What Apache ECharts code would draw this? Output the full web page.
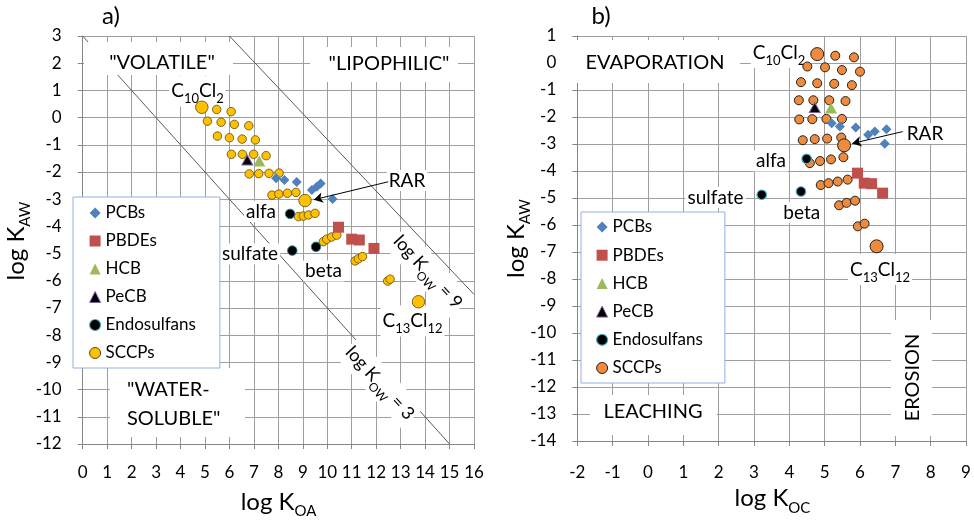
<!DOCTYPE html>
<html>
<head>
<meta charset="utf-8">
<script src="https://cdn.jsdelivr.net/npm/echarts@6/dist/echarts.min.js"></script>
<style>html,body{margin:0;padding:0;background:#fff}#c{width:974px;height:521px}</style>
</head>
<body>
<div id="c"></div>
<script>
const FONT = 'Lato, "Open Sans", "Liberation Sans", sans-serif';

// ---------- axis ranges / ticks ----------
const xRangeA = [0, 16];
const yRangeA = [-12, 3];
const xRangeB = [-2, 9];
const yRangeB = [-14, 1];
const tickStep = 1;
const legendNames = ['PCBs', 'PBDEs', 'HCB', 'PeCB', 'Endosulfans', 'SCCPs'];

// ---------- panel a) : log KOA vs log KAW ----------
const pcbA = [[7.91,-2.23],[8.25,-2.29],[8.75,-2.37],[9.37,-2.66],[9.57,-2.54],[9.73,-2.42],[10.22,-2.99]];
const pbdeA = [[10.46,-4.03],[11.00,-4.47],[11.31,-4.50],[11.91,-4.81]];
const hcbA = [[7.22,-1.60]];
const pecbA = [[6.73,-1.56]];
const endoA = [[8.48,-3.54],[8.57,-4.89],[9.54,-4.75]];
const sccpA = [
  [5.48,0.30],[6.07,0.22],
  [5.10,-0.13],[5.66,-0.17],[6.20,-0.25],[6.79,-0.30],
  [5.51,-0.68],[6.00,-0.74],[6.52,-0.79],[7.06,-0.82],
  [6.08,-1.35],[6.53,-1.35],[6.99,-1.35],[7.50,-1.40],
  [6.81,-2.07],[7.20,-2.06],[7.62,-2.05],[8.03,-2.04],
  [7.74,-2.85],[8.02,-2.81],[8.37,-2.78],[8.72,-2.75],
  [8.82,-3.64],[9.02,-3.62],[9.23,-3.58],[9.50,-3.52],
  [9.84,-4.56],[9.98,-4.47],[10.18,-4.39],[10.39,-4.32],
  [11.14,-5.27],[11.27,-5.19],[11.44,-5.11],
  [12.47,-6.01],[12.57,-5.94]
];
const sccpAKey = [[4.87,0.38],[9.09,-3.05],[13.73,-6.77]]; // C10Cl2, RAR, C13Cl12
const kow3A = [[0,3],[15,-12]];
const kow9A = [[6,3],[16,-6.5]];
const rarArrowA = [[12.49,-2.36],[9.45,-3.02]];

// ---------- panel b) : log KOC vs log KAW ----------
const pcbB = [[5.20,-2.23],[5.43,-2.35],[5.88,-2.39],[6.23,-2.66],[6.42,-2.54],[6.75,-2.45],[6.70,-2.99]];
const pbdeB = [[5.93,-4.08],[6.12,-4.45],[6.33,-4.47],[6.64,-4.82]];
const hcbB = [[5.18,-1.67]];
const pecbB = [[4.72,-1.65]];
const endoB = [[4.49,-3.55],[3.22,-4.88],[4.33,-4.76]];
const sccpB = [
  [5.30,0.27],[5.83,0.21],
  [4.51,-0.13],[5.01,-0.16],[5.49,-0.26],[6.00,-0.32],
  [4.33,-0.71],[4.79,-0.75],[5.27,-0.77],[5.77,-0.82],
  [4.27,-1.38],[4.68,-1.38],[5.13,-1.38],[5.59,-1.41],
  [4.28,-2.09],[4.65,-2.08],[5.05,-2.07],[5.49,-2.07],
  [4.38,-2.86],[4.72,-2.82],[5.07,-2.80],[5.47,-2.76],
  [4.58,-3.71],[4.87,-3.63],[5.18,-3.57],[5.53,-3.49],
  [4.89,-4.52],[5.11,-4.45],[5.37,-4.39],[5.65,-4.32],
  [5.41,-5.27],[5.62,-5.18],[5.86,-5.10],
  [5.94,-6.05],[6.13,-5.95]
];
const sccpBKey = [[4.79,0.33],[5.55,-3.05],[6.47,-6.79]];
const rarArrowB = [[7.21,-2.54],[5.78,-2.98]];

// ---------- styles ----------
const C = {
  pcb: '#4F81BD', pbde: '#C0504D', hcb: '#9BBB59', pecb: '#000000', pecbEdge: '#8064A2',
  endo: '#000000', endoEdge: '#4BACC6', sccpA: '#FFC000', sccpAEdge: '#5a4a10',
  sccpB: '#F08A3C', sccpBEdge: '#222222', grid: '#9E9E9E', axis: '#868686'
};

function xAxis(gi, range, margin) {
  return {
    type: 'value', gridIndex: gi, min: range[0], max: range[1], interval: tickStep,
    axisLine: { show: true, onZero: false, lineStyle: { color: C.axis, width: 1 } },
    axisTick: { show: true, inside: false, length: 5, lineStyle: { color: C.axis } },
    axisLabel: { show: true, margin: margin, fontFamily: FONT, fontSize: 17, color: '#000',
      showMinLabel: true, showMaxLabel: true, hideOverlap: false },
    splitLine: { show: true, lineStyle: { color: C.grid, width: 1 } }
  };
}
function yAxis(gi, range) {
  return {
    type: 'value', gridIndex: gi, min: range[0], max: range[1], interval: tickStep,
    axisLine: { show: true, onZero: false, lineStyle: { color: C.axis, width: 1 } },
    axisTick: { show: true, inside: false, length: 5, lineStyle: { color: C.axis } },
    axisLabel: { show: true, margin: 21, fontFamily: FONT, fontSize: 17, color: '#000',
      showMinLabel: true, showMaxLabel: true, hideOverlap: false },
    splitLine: { show: true, lineStyle: { color: C.grid, width: 1 } }
  };
}
function sc(name, data, gi, symbol, size, color, edge, bw, z) {
  return {
    type: 'scatter', name: name, xAxisIndex: gi, yAxisIndex: gi, data: data,
    symbol: symbol, symbolSize: size, z: z || 2, silent: true, animation: false,
    itemStyle: { color: color, borderColor: edge || color, borderWidth: bw || 0, opacity: 1 },
    emphasis: { disabled: true }
  };
}
function refLine(data, gi) {
  return {
    type: 'line', name: 'ref', xAxisIndex: gi, yAxisIndex: gi, data: data, z: 1,
    symbol: 'none', silent: true, animation: false,
    lineStyle: { color: '#595959', width: 1 }, emphasis: { disabled: true }
  };
}
function arrow(series, pts) {
  series.markLine = {
    silent: true, animation: false, symbol: ['none', 'arrow'], symbolSize: [8, 9],
    lineStyle: { color: '#000', width: 1, type: 'solid' }, label: { show: false },
    emphasis: { disabled: true },
    data: [[{ coord: pts[0] }, { coord: pts[1] }]]
  };
  return series;
}
function legendData(sc1, sc1Edge) {
  return [
    { name: legendNames[0], icon: 'diamond', itemStyle: { color: C.pcb, borderWidth: 0 } },
    { name: legendNames[1], icon: 'rect', itemStyle: { color: C.pbde, borderWidth: 0 } },
    { name: legendNames[2], icon: 'triangle', itemStyle: { color: C.hcb, borderWidth: 0 } },
    { name: legendNames[3], icon: 'triangle', itemStyle: { color: C.pecb, borderColor: C.pecbEdge, borderWidth: 1 } },
    { name: legendNames[4], icon: 'circle', itemStyle: { color: C.endo, borderColor: C.endoEdge, borderWidth: 1.2 } },
    { name: legendNames[5], icon: 'circle', itemStyle: { color: sc1, borderColor: sc1Edge, borderWidth: 1 } }
  ];
}
function legend(left, top, pad, gap, sc1, sc1Edge) {
  return {
    show: true, orient: 'vertical', left: left, top: top, padding: pad, itemGap: gap,
    itemWidth: 11, itemHeight: 11, selectedMode: false, z: 10,
    backgroundColor: '#fff', borderColor: '#8DB3E2', borderWidth: 1, borderRadius: 0,
    textStyle: { fontFamily: FONT, fontSize: 17, color: '#000', lineHeight: 20 },
    data: legendData(sc1, sc1Edge)
  };
}

// ---------- text annotations (pixel layout) ----------
function richSub(fs, sfs) {
  return {
    m: { fontSize: fs, fontFamily: FONT, fill: '#000', lineHeight: fs + 10 },
    s: { fontSize: sfs, fontFamily: FONT, fill: '#000', verticalAlign: 'bottom' }
  };
}
function T(x, y, text, fs, opt) {
  opt = opt || {};
  const style = {
    text: text, fontFamily: FONT, fontSize: fs, fill: '#000',
    align: opt.align || 'center', verticalAlign: 'middle'
  };
  if (opt.sub) style.rich = richSub(fs, opt.sub);
  if (opt.bg) { style.backgroundColor = '#fff'; style.padding = [1, 2]; }
  return { type: 'text', x: x, y: y, rotation: opt.rot || 0, z: opt.z || 1.6, silent: true, style: style };
}
function R(x, y, w, h) {
  return { type: 'rect', shape: { x: x, y: y, width: w, height: h }, z: 1.5, silent: true,
    style: { fill: '#fff', stroke: null } };
}
const DEG = Math.PI / 180;
const graphics = [
  // panel a
  T(111, 16, 'a)', 24),
  R(84, 42, 149, 33), T(162, 63, '"VOLATILE"', 20),
  R(310, 47, 148, 35), T(389, 64, '"LIPOPHILIC"', 20),
  R(110, 368, 135, 69), T(127, 390, '"WATER-', 20, { align: 'left' }), T(127, 418.5, 'SOLUBLE"', 20, { align: 'left' }),
  T(197.5, 91, '{m|C}{s|10}{m|Cl}{s|2}', 19, { sub: 13, bg: true }),
  T(407, 180.5, 'RAR', 19, { bg: true }),
  T(261, 211.5, 'alfa', 19, { bg: true }),
  T(250, 254, 'sulfate', 19, { bg: true }),
  T(323.5, 271, 'beta', 19, { bg: true }),
  T(412.5, 321, '{m|C}{s|13}{m|Cl}{s|12}', 19, { sub: 13, bg: true }),
  T(428, 272, '{m|log K}{s|OW}{m| = 9}', 18, { sub: 12, bg: true, rot: -47.5 * DEG }),
  T(380, 383, '{m|log K}{s|OW}{m| = 3}', 18, { sub: 12, bg: true, rot: -47.5 * DEG }),
  T(16, 241, '{m|log K}{s|AW}', 24, { sub: 15, rot: 90 * DEG }),
  T(278.5, 502, '{m|log K}{s|OA}', 24, { sub: 15 }),
  // panel b
  T(601, 16, 'b)', 24),
  R(572, 40, 168, 43), T(655, 62.5, 'EVAPORATION', 20),
  R(590, 395, 127, 40), T(653, 412, 'LEACHING', 20),
  R(891, 320, 41, 116), T(912.5, 377.5, 'EROSION', 20, { rot: 90 * DEG }),
  T(779, 52.5, '{m|C}{s|10}{m|Cl}{s|2}', 19, { sub: 13, bg: true }),
  T(925, 133.5, 'RAR', 19, { bg: true }),
  T(771, 161, 'alfa', 19, { bg: true }),
  T(715.5, 197.5, 'sulfate', 19, { bg: true }),
  T(801.7, 212.5, 'beta', 19, { bg: true }),
  T(880, 269.5, '{m|C}{s|13}{m|Cl}{s|12}', 19, { sub: 13, bg: true }),
  T(516, 238.5, '{m|log K}{s|AW}', 24, { sub: 15, rot: 90 * DEG }),
  T(772.5, 498.5, '{m|log K}{s|OC}', 24, { sub: 15 })
];

const chart = echarts.init(document.getElementById('c'), null, { renderer: 'canvas' });
chart.setOption({
  animation: false,
  backgroundColor: '#fff',
  textStyle: { fontFamily: FONT },
  grid: [
    { left: 82.7, top: 36, width: 391.3, height: 408, containLabel: false, outerBoundsMode: 'none' },
    { left: 577.3, top: 36, width: 388.7, height: 405, containLabel: false, outerBoundsMode: 'none' }
  ],
  xAxis: [xAxis(0, xRangeA, 20), xAxis(1, xRangeB, 23)],
  yAxis: [yAxis(0, yRangeA), yAxis(1, yRangeB)],
  legend: [
    legend(73, 197, [6, 24, 5, 16], 8, C.sccpA, C.sccpAEdge),
    legend(581, 212, [5, 22, 5, 15], 8.2, C.sccpB, C.sccpBEdge)
  ],
  series: [
    refLine(kow3A, 0),
    refLine(kow9A, 0),
    sc('SCCPs', sccpA, 0, 'circle', 8.5, C.sccpA, C.sccpAEdge, 0.8, 2),
    arrow(sc('SCCPs', sccpAKey, 0, 'circle', 12.5, C.sccpA, C.sccpAEdge, 0.8, 3), rarArrowA),
    sc('PCBs', pcbA, 0, 'diamond', 10, C.pcb, null, 0, 4),
    sc('PBDEs', pbdeA, 0, 'rect', 11, C.pbde, null, 0, 4),
    sc('HCB', hcbA, 0, 'triangle', [12, 11], C.hcb, null, 0, 4),
    sc('PeCB', pecbA, 0, 'triangle', [11, 10], C.pecb, C.pecbEdge, 1, 4),
    sc('Endosulfans', endoA, 0, 'circle', 9.5, C.endo, '#2f7f8f', 1, 4),

    sc('SCCPs', sccpB, 1, 'circle', 9, C.sccpB, C.sccpBEdge, 1, 2),
    arrow(sc('SCCPs', sccpBKey, 1, 'circle', 13, C.sccpB, C.sccpBEdge, 1, 3), rarArrowB),
    sc('PCBs', pcbB, 1, 'diamond', 10, C.pcb, null, 0, 4),
    sc('PBDEs', pbdeB, 1, 'rect', 11, C.pbde, null, 0, 4),
    sc('HCB', hcbB, 1, 'triangle', [12, 11], C.hcb, null, 0, 4),
    sc('PeCB', pecbB, 1, 'triangle', [11, 10], C.pecb, C.pecbEdge, 1, 4),
    sc('Endosulfans', endoB, 1, 'circle', 9.5, C.endo, C.endoEdge, 1.2, 4)
  ],
  graphic: { elements: graphics }
});
</script>
</body>
</html>
